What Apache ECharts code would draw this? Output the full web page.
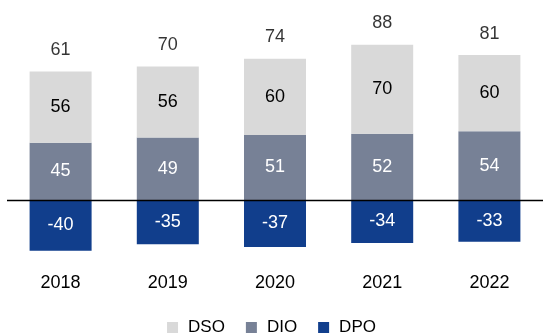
<!DOCTYPE html>
<html lang="en">
<head>
<meta charset="UTF-8">
<title>DSO DIO DPO</title>
<script src="https://cdn.jsdelivr.net/npm/echarts@6/dist/echarts.min.js"></script>
<style>
  html, body { margin: 0; padding: 0; background: #fff; }
</style>
</head>
<body>
<div id="main" style="width: 543px;height: 333px;"></div>
<script>
var years = ['2018', '2019', '2020', '2021', '2022'];
var dso = [56, 56, 60, 70, 60];
var dio = [45, 49, 51, 52, 54];
var dpo = [-40, -35, -37, -34, -33];

// net total shown above each bar, placed at top of the positive stack
var totalPoints = [];
for (var i = 0; i < years.length; i++) {
  totalPoints.push({
    value: [years[i], dso[i] + dio[i]],
    total: dso[i] + dio[i] + dpo[i]
  });
}

var font = 'Liberation Sans, Arial, sans-serif';
var myChart = echarts.init(document.getElementById('main'));

var option = {
  animation: false,
  textStyle: { fontFamily: font },
  grid: { left: 7, right: 0, top: 22, bottom: 95 },
  legend: {
    data: ['DSO', 'DIO', 'DPO'],
    top: 314,
    left: 'center',
    itemWidth: 11,
    itemHeight: 11,
    itemGap: 21,
    icon: 'rect',
    textStyle: { fontSize: 17, color: '#000', fontFamily: font, padding: [0, 0, 0, 5] }
  },
  xAxis: {
    type: 'category',
    data: years,
    axisLine: { show: false, onZero: false },
    axisTick: { show: false },
    axisLabel: { fontSize: 18, color: '#000', margin: 36, fontFamily: font }
  },
  yAxis: {
    type: 'value',
    min: -30,
    max: 140,
    show: false,
    splitLine: { show: false }
  },
  series: [
    {
      name: 'DIO',
      type: 'bar',
      stack: 'days',
      barWidth: 62,
      clip: false,
      itemStyle: { color: '#778196' },
      label: { show: true, position: 'inside', fontSize: 18, color: '#fff', fontFamily: font },
      data: dio
    },
    {
      name: 'DSO',
      type: 'bar',
      stack: 'days',
      barWidth: 62,
      clip: false,
      itemStyle: { color: '#d9d9d9' },
      label: { show: true, position: 'inside', fontSize: 18, color: '#000', fontFamily: font },
      data: dso
    },
    {
      name: 'DPO',
      type: 'bar',
      stack: 'days',
      barWidth: 62,
      clip: false,
      itemStyle: { color: '#113e8c' },
      label: { show: true, position: 'inside', fontSize: 18, color: '#fff', fontFamily: font },
      data: dpo,
      markLine: {
        silent: true,
        symbol: 'none',
        label: { show: false },
        lineStyle: { color: '#000', width: 1.3, type: 'solid' },
        data: [{ yAxis: 0 }]
      }
    },
    {
      name: 'Total',
      type: 'scatter',
      symbolSize: 1,
      itemStyle: { color: 'rgba(0,0,0,0)' },
      label: {
        show: true,
        position: 'top',
        distance: 12,
        fontSize: 18,
        color: '#000',
        fontFamily: font,
        formatter: function (p) { return p.data.total; }
      },
      data: totalPoints
    }
  ]
};
myChart.setOption(option);
</script>
</body>
</html>
